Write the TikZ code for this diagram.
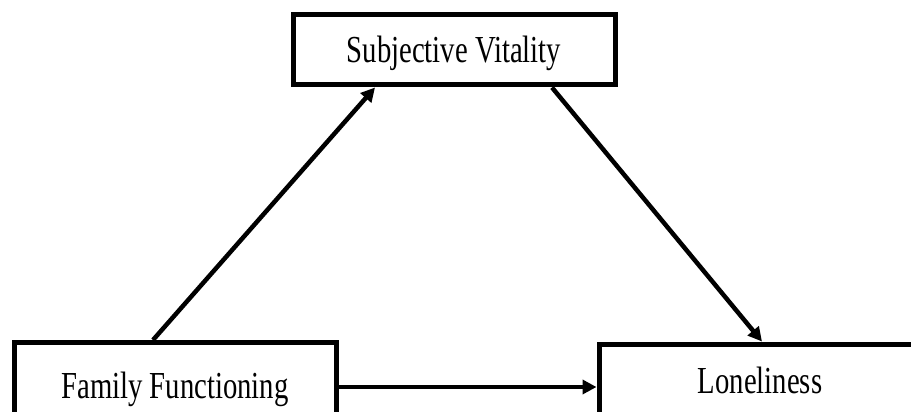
\documentclass[tikz,border=0pt]{standalone}
\usepackage{fontspec}
\setmainfont{Liberation Serif}
\usetikzlibrary{arrows.meta}
\newcommand{\tallt}[1]{\scalebox{1}[1.33]{#1}}
\begin{document}
\begin{tikzpicture}[x=1pt,y=-1pt,
  box/.style={draw, line width=5pt, inner sep=0pt, minimum width=322pt,
    text height=26pt, font=\fontsize{28.7}{30}\selectfont},
  conn/.style={line width=4.5pt, -{Triangle[length=14pt,width=14pt]}}]
\useasboundingbox (0,0) rectangle (911,412);
\clip (0,0) rectangle (911,412);
\fill[white] (0,0) rectangle (911,412);
\node[box, minimum height=70pt, text depth=0pt] (subj) at (454,50) {\tallt{Subjective Vitality}};
\node[box, minimum height=97.5pt, text depth=12.5pt] (fam) at (175,391.25) {\tallt{Family Functioning}};
\node[box, minimum height=96pt, text depth=24pt] (lon) at (760,392) {\tallt{Loneliness}};
\draw[conn] (153,0 |- fam.north) -- (375,0 |- subj.south);
\draw[conn] (552,0 |- subj.south) -- (762,0 |- lon.north);
\draw[conn] (fam.east |- 0,387) -- (lon.west |- 0,387);
\end{tikzpicture}
\end{document}
